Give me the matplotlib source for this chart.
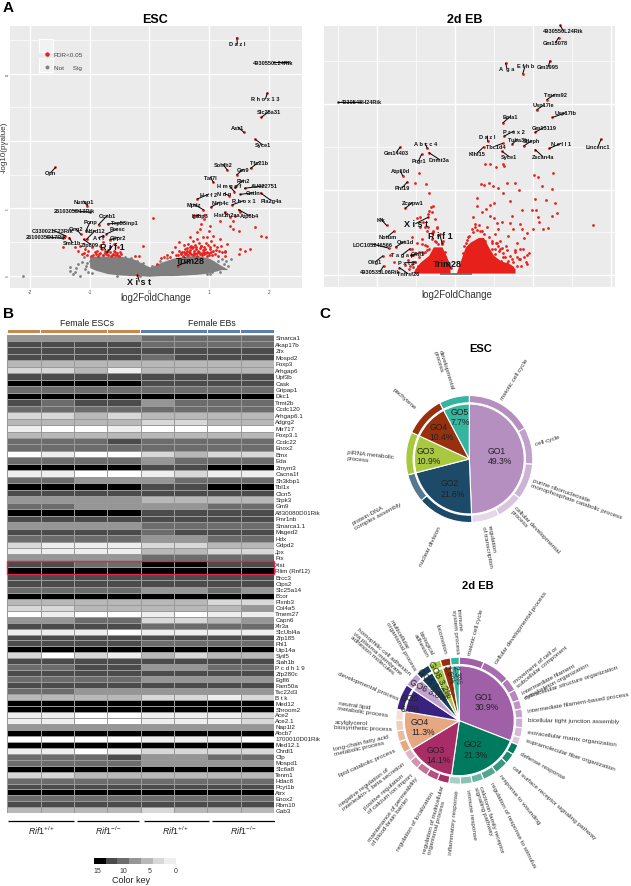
import numpy as np
import matplotlib
matplotlib.use("Agg")
import matplotlib.pyplot as plt
from matplotlib.colors import ListedColormap, BoundaryNorm, to_rgba
from matplotlib.lines import Line2D
from matplotlib.patches import Rectangle

plt.rcParams['font.family'] = ['Liberation Sans', 'DejaVu Sans']
plt.rcParams['mathtext.fontset'] = 'custom'
plt.rcParams['mathtext.rm'] = 'Liberation Sans'
plt.rcParams['mathtext.it'] = 'Liberation Sans:italic'

W, H = 631, 887
RED = '#e8201c'
GREY = '#7f7f7f'

# ---- panel A, ESC volcano ----
esc_names = ["D a z l", "4930550L24Rik", "R h o x 1 3", "Slc25a31", "Asz1", "Syce1", "Tfc21b", "Gm9", "Sohlh2",
             "Taf7l", "H m g p f", "Fbn2", "AU022751", "Cntln", "Pla2g4a", "N d n", "H x f 2", "Mpdz", "Nlrp4c",
             "R h o x 1", "Igfbp3", "Hist1h2aa", "Atp8b4", "Opn", "Nusap1", "2610305D13Rik", "Ccnb1", "Trp53inp1",
             "Pcnp", "Ndrd12", "Prosc", "Gng2", "C330021F23Rik", "2610035D17Rik", "Smc1b", "Zfp809", "A t f",
             "Gjipr2"]
esc_px = [1.46, 2.32, 1.97, 1.87, 1.58, 1.77, 1.69, 1.46, 1.30, 1.07, 1.42, 1.43, 1.59, 1.52, 1.86, 1.33, 0.80, 0.90,
          1.03, 1.38, 0.79, 1.26, 1.49, -1.57, -1.04, -0.99, -0.85, -0.70, -1.06, -1.05, -0.72, -1.15, -1.41, -1.44,
          -1.34, -1.10, -0.77, -0.66]
esc_py = [17.67, 15.84, 13.56, 11.76, 10.64, 10.12, 7.97, 7.50, 7.85, 6.93, 6.24, 6.56, 6.49, 6.04, 6.14, 5.94, 5.69,
          4.90, 5.10, 5.25, 4.46, 4.70, 4.90, 8.04, 5.20, 4.70, 3.79, 3.84, 3.34, 2.70, 3.09, 3.09, 2.97, 2.77, 2.82,
          2.70, 2.97, 2.67]
esc_tx = [1.47, 2.06, 1.94, 2.00, 1.48, 1.89, 1.83, 1.57, 1.23, 1.02, 1.34, 1.57, 1.92, 1.74, 2.03, 1.25, 0.99, 0.74,
          1.18, 1.57, 0.85, 1.29, 1.67, -1.65, -1.10, -1.26, -0.70, -0.42, -0.99, -0.91, -0.54, -1.23, -1.62, -1.72,
          -1.29, -0.99, -0.85, -0.52]
esc_ty = [17.23, 15.84, 13.14, 12.20, 11.04, 9.73, 8.44, 7.90, 8.27, 7.30, 6.66, 7.10, 6.68, 6.16, 5.59, 6.11, 6.06,
          5.32, 5.47, 5.57, 4.50, 4.53, 4.46, 7.65, 5.54, 4.83, 4.48, 3.94, 4.00, 3.34, 3.47, 3.49, 3.39, 2.87, 2.45,
          2.33, 2.80, 2.85]
esc_big = ["R i f 1", "Trim28", "X i s t"]
esc_big_px = [-0.71, 0.47, -0.20]
esc_big_py = [1.73, 0.74, 0.05]
esc_big_tx = [-0.62, 0.68, -0.17]
esc_big_ty = [2.20, 1.11, -0.42]

esc_red_x = [.44, .48, .52, .56, .60, .64, .68, .72, .76, .80, .84, .88, .92, .96, 1.0, 1.05, 1.10, 1.15,
             .50, .55, .59, .63, .67, .71, .74, .78, .81, .85, .89, .93, .97, 1.01, 1.06, 1.11, 1.16, 1.21, 1.26,
             .42, .50, .58, .65, .69, .73, .76, .79, .83, .87, .90, .94, .98, 1.03, 1.08, 1.13, 1.19,
             .87, .91, .85, .79, .68, 1.01, 1.18, 1.35, 1.40, 1.49, 1.77, 1.87, 1.95, 1.52, 1.68, 1.60, 1.49,
             1.29, 1.26, 1.26, 1.18, .96, 1.06, .99, .74, .91, 1.35, 1.40, 1.52, 1.43,
             .06, -.10, -.24, -.18, .20, .25, .30, .35, .38, .12,
             -1.44, -1.24, -1.16, -1.19, -1.13, -1.07, -1.02, -.96, -.91, -.82, -.77, -.66, -.60, -.52,
             -.95, -.90, -.86, -.82, -.78, -.75, -.72, -.69, -.66, -.63, -.60, -.57, -.54, -.51, -.48,
             -.88, -.84, -.80, -.74, -.70, -.64, -.61, -.58, -.55, -.50, -1.05, -1.10, -.98,
             .53, .57, .61, .66, .70, .75, .79, .83, .88, .91, .95, .99, 1.03, .62, .68, .73, .78, .86, .92, 1.02]
esc_red_y = [1.50, 1.55, 1.62, 1.48, 1.60, 1.52, 1.66, 1.50, 1.58, 1.46, 1.60, 1.52, 1.64, 1.48, 1.56, 1.50, 1.62, 1.45,
             1.85, 1.78, 1.95, 1.82, 1.90, 2.02, 1.80, 1.96, 1.84, 2.05, 1.88, 1.98, 1.78, 2.00, 1.86, 1.92, 1.80, 1.75, 1.72,
             2.15, 2.50, 2.25, 2.35, 2.20, 2.60, 2.30, 2.75, 2.40, 2.20, 2.90, 2.45, 2.25, 2.55, 2.30, 2.10, 2.20,
             3.84, 4.20, 3.47, 3.22, 2.85, 3.71, 4.08, 3.71, 3.47, 3.34, 3.59, 2.97, 2.85, 1.98, 1.98, 1.86, 1.61,
             2.35, 1.86, 1.49, 2.72, 2.85, 2.97, 3.34, 4.50, 4.53, 4.33, 4.08, 4.70, 4.46,
             4.28, 2.23, 1.44, 1.44, 1.30, 1.42, 1.55, 1.35, 1.75, 0.90,
             2.10, 2.10, 2.23, 1.80, 1.60, 1.98, 1.86, 2.10, 1.73, 2.23, 2.48, 2.10, 2.35, 2.10,
             1.50, 1.62, 1.48, 1.70, 1.52, 1.80, 1.58, 1.50, 1.72, 1.55, 1.85, 1.50, 1.65, 1.48, 1.60,
             1.85, 1.58, 1.95, 1.65, 1.90, 1.45, 1.62, 1.78, 1.52, 1.75, 1.55, 1.70, 1.48,
             1.68, 1.72, 1.65, 1.74, 1.62, 1.70, 1.66, 1.74, 1.70, 1.76, 1.70, 1.66, 1.72, 2.05, 2.10, 2.12, 2.14, 2.18, 2.10, 2.15]
esc_grey_x = [-2.12, -1.33, -1.33, -1.19, -1.27, -1.13, -1.08, -1.10, -1.16, -1.04, -1.22, -1.25, -1.02, -1.0,
              -.96, -1.06, 1.07, 1.15, 1.24, 1.32, 1.12, .96, 1.18, 1.05, 1.02, 1.20, 1.10, 1.37, 1.28, 1.22, .62, .18,
              -.78, -.40, -.30, -.20, -.10, -.15, .05, .30, -.55]
esc_grey_y = [0.0, 0.62, 0.37, 0.87, 0.12, 1.00, 0.50, 1.36, 0.00, 0.95, 0.55, 0.30, 0.25, 1.10,
              0.20, 0.72, 1.00, 1.11, 0.87, 0.74, 0.50, 0.12, 0.25, 0.30, 0.15, 0.60, 0.85, 1.25, 1.05, 1.20, 1.50, 1.05,
              1.50, 1.38, 1.30, 1.08, 0.92, -0.05, 0.72, 1.28, -0.02]
# outline of the solid grey mass
esc_env_x = [-1.0, -0.9, -0.7, -0.5, -0.3, -0.2, -0.1, 0.0, 0.1, 0.2, 0.4, 0.6, 0.8, 1.0, 1.2, 1.3]
esc_env_top = [1.40, 1.45, 1.45, 1.45, 1.30, 1.10, 0.87, 0.65, 0.80, 1.00, 1.30, 1.45, 1.50, 1.30, 0.75, 0.50]
esc_env_bot = [0.60, 0.40, 0.15, 0.05, 0.00, 0.00, -0.02, -0.05, -0.02, 0.00, 0.00, 0.05, 0.10, 0.20, 0.45, 0.45]

# ---- panel A, 2d EB volcano ----
eb_names = ["4930550L24Rik", "Gm13078", "Gm1995", "E f h b", "A  g a", "Tmem92", "Usp17le", "Usp17lb", "4930548H24Rik",
            "Bola1", "Gm13119", "P r e x 2", "D a z l", "Tuba3b", "Stleph", "N e l l 1", "Lincenc1", "Tbc1d4", "Klhl15",
            "Syce1", "Zscan4a", "A b c c 4", "Gm14403", "Ptgr1", "Dnmt3a", "Atp10d", "Phf19", "Zcwpw1", "Klk", "Notum",
            "Oas1d", "LOC105246566", "T a g a p", "Cfhl1", "Olig1", "P x t 1", "4930535L06Rik", "Tnfrsf26"]
eb_px = [2.70, 2.66, 2.44, 1.74, 1.30, 2.36, 2.10, 2.50, -3.02, 1.23, 2.06, 1.26, 0.84, 1.47, 1.76, 2.42, 3.75, 1.22,
         0.73, 1.21, 2.06, -0.72, -1.41, -0.86, -0.67, -1.35, -1.23, -1.28, -1.76, -1.58, -1.53, -1.71, -1.16, -1.14,
         -1.86, -1.03, -1.84, -1.43]
eb_py = [29.22, 27.78, 25.06, 23.58, 24.79, 20.54, 19.34, 18.44, 20.31, 17.82, 16.73, 16.26, 15.64, 15.33, 15.10, 14.82,
         15.88, 15.41, 14.98, 14.47, 14.67, 14.86, 14.98, 14.12, 14.32, 11.63, 10.89, 7.82, 5.80, 5.10, 3.27, 3.15, 3.07,
         2.30, 2.22, 1.52, 1.05, 0.86]
eb_tx = [2.78, 2.58, 2.39, 1.80, 1.33, 2.57, 2.28, 2.84, -2.42, 1.41, 2.30, 1.51, 0.83, 1.60, 1.97, 2.72, 3.68, 1.04,
         0.57, 1.39, 2.25, -0.77, -1.51, -0.94, -0.41, -1.41, -1.35, -1.10, -1.90, -1.74, -1.29, -2.12, -1.35, -0.97,
         -2.05, -1.26, -1.93, -1.22]
eb_ty = [28.60, 27.20, 24.36, 24.47, 24.20, 21.17, 19.92, 18.99, 20.31, 18.52, 17.32, 16.85, 16.26, 15.91, 15.72, 15.41,
         15.10, 15.10, 14.28, 13.85, 13.89, 15.41, 14.36, 13.39, 13.54, 12.22, 10.27, 8.48, 6.50, 4.47, 3.97, 3.62, 2.41,
         2.49, 1.56, 1.44, 0.39, 0.19]
eb_big = ["X i s t", "R i f 1", "Trim28"]
eb_big_px = [-0.69, -0.33, -0.11]
eb_big_py = [6.77, 3.66, 0.82]
eb_big_tx = [-1.01, -0.39, -0.20]
eb_big_ty = [6.03, 4.67, 1.36]

eb_red_x = [.77, .90, 1.04, 1.24, 1.26, 2.03, 2.14, 2.51, .66, .73, .86, 0.98, 1.11, 1.34, 1.54, 1.64, 1.22, 1.41, .57,
            2.05, 2.33, 2.58, 2.24, 2.49, 2.62, 2.48, 2.14, 2.15, 1.98, 2.09, 1.73, 1.46, 1.00, .90, .80, .56, .68, .47,
            .90, .99, 1.07, 1.20, 1.42, 1.49, 1.72, 1.67, 2.01, 2.25, 2.40, 3.55, 1.85, 1.78, 1.60, 1.35, 1.10, 1.30,
            1.75, 1.90, 1.55, 1.20, 1.05, 1.42, 1.65, 1.82, 1.12, 1.28, 1.50, 1.70, 1.38, 1.02, 1.18,
            .51, .57, .45, .34, .43, .64, .73, .81, .68, .94, 1.03, .94, 1.07, 1.16, 1.33, 1.24, 1.46, 1.59, 1.54, 1.67,
            1.84, 1.76, 1.84, 1.16, .77, .94, 1.03, 1.67, 1.41, 1.59, 1.16, .30, .36, .28, .52, .62, .88, 1.10, 1.22,
            1.36, 1.47, 1.33, .24, .20,
            -.94, -1.02, -.76, -.67, -.56, -.61, -.66, -.69, -.60, -.51, -.90, -.97, -.82, -.90, -.77, -.47, -.56, -.43,
            -1.11, -.86, -1.67, -1.58, -.73, -.77, -.94, -1.07, -.98, -1.10, -.85, -.60, -.72, -.50, -1.28, -1.20, -.95,
            -.60, -.51, -.38, -.56, -.69, -.47, -.30, -.43, -.77, -.86, -.94, -1.03, -1.07, -1.11, -.68, -.34, -.72,
            -.82, -.25, -.20, -1.15, -1.18]
eb_red_y = [13.00, 12.96, 12.60, 13.00, 12.80, 11.74, 11.50, 12.00, 10.62, 10.54, 10.82, 10.39, 10.19, 10.74, 10.78, 10.00,
            9.63, 8.72, 9.05, 8.95, 8.79, 8.48, 10.42, 10.05, 7.28, 6.89, 6.77, 6.26, 7.63, 7.66, 7.66, 6.96, 8.40, 8.16,
            7.70, 8.05, 7.35, 6.81, 6.91, 6.72, 6.05, 6.21, 6.05, 5.35, 5.35, 6.00, 5.43, 5.40, 5.50, 5.90, 4.90, 4.30,
            3.70, 4.60, 5.40, 3.40, 3.10, 2.60, 2.90, 3.20, 3.70, 2.20, 1.90, 1.50, 2.80, 2.10, 1.50, 1.10, 1.00, 3.00, 1.60,
            5.60, 5.30, 5.00, 4.40, 5.40, 5.10, 4.80, 5.60, 5.20, 4.00, 4.80, 3.10, 3.70, 3.10, 2.90, 2.10, 1.90, 2.10, 2.70,
            3.10, 2.30, 2.10, 1.30, 4.00, 4.00, 3.80, 2.50, 1.90, 1.10, 1.10, 0.85, 4.10, 4.60, 3.70, 6.00, 5.90, 4.50, 3.40,
            2.60, 1.70, 0.95, 1.40, 3.40, 2.60,
            11.98, 10.74, 10.66, 9.60, 8.12, 7.93, 7.55, 7.16, 7.35, 6.58, 6.77, 6.70, 6.19, 5.65, 5.58, 5.54, 5.00, 4.67,
            4.40, 3.66, 2.30, 1.58, 3.45, 2.68, 2.68, 2.30, 3.80, 3.00, 4.20, 4.90, 5.10, 3.90, 1.20, 1.80, 1.00,
            4.20, 4.00, 4.80, 5.20, 5.60, 5.60, 4.00, 3.60, 3.50, 2.70, 2.10, 1.50, 0.90, 1.30, 3.10, 3.70, 2.90,
            2.60, 2.70, 1.70, 1.10, 0.70]
# outlines of the solid red wings and the grey band at the centre
eb_right_x = [0.04, 0.17, 0.26, 0.385, 0.60, 0.73, 0.86, 0.99, 1.16, 1.41, 1.54]
eb_right_top = [0.35, 2.10, 3.27, 3.85, 4.40, 4.40, 3.27, 2.30, 1.70, 1.30, 0.75]
eb_left_x = [-1.07, -1.03, -0.90, -0.68, -0.56, -0.34, -0.21, -0.13]
eb_left_top = [0.35, 0.73, 1.50, 2.30, 3.30, 3.30, 2.10, 0.74]
eb_band_x = [-0.39, 0.43]
eb_band_top = [0.23, 0.23]

# ---- panel B ----
heat_genes = ["Smarca1", "Akap17b", "Zfx", "Mospd2", "Foxp3", "Arhgap6", "Upf3b", "Cask", "Gripap1", "Dkc1", "Trmt2b",
              "Ccdc120", "Arhgap6.1", "Adgrg2", "Mir717", "Foxp3.1", "Ccdc22", "Enox2", "Bmx", "Eda", "Zmym3", "Cacna1f",
              "Sh3kbp1", "Tbl1x", "Clcn5", "Srpk3", "Gm9", "A830080D01Rik", "Fmr1nb", "Smarca1.1", "Maged2", "Hdx", "Gdpd2",
              "Jpx", "Ftx", "Xist", "Rlim (Rnf12)", "Brcc3", "Ctps2", "Slc25a14", "Bcor", "Plxnb3", "Col4a5", "Tmem27",
              "Capn6", "Xlr3a", "SlcUbl4a", "Zfp185", "Fhl1", "Utp14a", "Sytl5", "Siah1b", "P c d h 1 9", "Zfp280c", "Egfl6",
              "Fam50a", "Tsc22d3", "B t k", "Med12", "Shroom2", "Ace2", "Ace2.1", "Nap1l2", "Abcb7", "1700010D01Rik",
              "Med12.1", "Chrdl1", "Cfp", "Mospd1", "Slc6a8", "Tenm1", "Hdac8", "Pcyt1b", "Atrx", "Enox2", "Rbm10", "Gab3"]
# grey level of each cell, 0 = black ... 7 = white
heat_levels = [
    [3, 3, 3, 3, 2, 2, 2, 2], [1, 1, 1, 1, 2, 2, 2, 2], [1, 1, 1, 1, 1, 1, 1, 1], [1, 1, 1, 1, 2, 1, 1, 1],
    [4, 4, 4, 4, 4, 4, 4, 4], [5, 5, 4, 6, 4, 4, 4, 4], [1, 1, 1, 1, 1, 1, 1, 1], [0, 0, 0, 0, 1, 1, 1, 1],
    [2, 2, 2, 2, 2, 2, 2, 2], [0, 0, 0, 0, 0, 0, 0, 0], [1, 2, 1, 1, 3, 2, 2, 2], [2, 2, 2, 2, 2, 2, 2, 2],
    [5, 5, 4, 5, 4, 4, 4, 4], [4, 4, 4, 4, 5, 5, 4, 4], [6, 7, 7, 6, 7, 7, 7, 7], [4, 4, 4, 4, 4, 4, 4, 4],
    [2, 2, 2, 1, 2, 2, 2, 2], [2, 2, 2, 2, 2, 2, 2, 2], [7, 6, 7, 7, 5, 4, 5, 5], [2, 2, 2, 2, 3, 2, 2, 2],
    [0, 0, 0, 0, 1, 1, 0, 0], [6, 6, 7, 7, 6, 5, 6, 6], [2, 2, 3, 3, 3, 2, 2, 2], [0, 0, 0, 0, 1, 1, 0, 0],
    [1, 1, 1, 1, 1, 1, 1, 1], [3, 3, 3, 3, 4, 4, 4, 4], [2, 2, 3, 3, 3, 3, 2, 2], [0, 0, 0, 0, 1, 1, 1, 1],
    [1, 1, 1, 1, 1, 1, 1, 1], [3, 3, 3, 3, 2, 2, 2, 2], [1, 1, 1, 1, 2, 1, 1, 1], [2, 2, 2, 2, 3, 3, 2, 2],
    [5, 6, 6, 6, 5, 5, 4, 4], [6, 6, 6, 6, 4, 4, 5, 5], [3, 3, 3, 3, 2, 2, 2, 2], [1, 1, 2, 2, 0, 0, 1, 1],
    [0, 0, 0, 0, 0, 0, 0, 0], [1, 1, 1, 1, 1, 1, 1, 1], [1, 1, 1, 1, 1, 1, 1, 1], [2, 2, 2, 2, 3, 3, 2, 3],
    [0, 0, 0, 0, 0, 0, 0, 0], [4, 4, 4, 4, 4, 4, 5, 5], [5, 5, 4, 4, 4, 4, 4, 3], [7, 6, 7, 7, 6, 7, 6, 6],
    [3, 3, 2, 2, 5, 5, 4, 3], [1, 1, 1, 1, 2, 2, 2, 2], [6, 6, 6, 7, 6, 6, 6, 6], [1, 1, 1, 1, 1, 1, 1, 1],
    [1, 1, 1, 1, 2, 2, 2, 2], [0, 0, 0, 0, 0, 0, 0, 0], [5, 7, 5, 6, 4, 5, 4, 4], [1, 1, 1, 1, 1, 1, 1, 1],
    [2, 2, 1, 1, 3, 3, 2, 2], [1, 1, 1, 1, 1, 1, 1, 1], [2, 2, 2, 2, 3, 3, 3, 3], [1, 1, 1, 1, 1, 1, 1, 1],
    [2, 2, 3, 3, 3, 3, 3, 3], [4, 4, 4, 4, 5, 5, 6, 5], [0, 0, 0, 0, 0, 0, 0, 0], [0, 0, 0, 0, 0, 0, 0, 0],
    [6, 6, 7, 7, 6, 6, 6, 5], [6, 6, 7, 7, 6, 6, 6, 5], [3, 3, 3, 3, 3, 3, 3, 3], [0, 0, 0, 0, 0, 0, 0, 0],
    [7, 7, 7, 7, 6, 6, 6, 7], [0, 0, 0, 0, 0, 0, 0, 0], [6, 6, 7, 6, 5, 5, 5, 5], [2, 2, 2, 1, 3, 3, 2, 2],
    [2, 2, 2, 2, 3, 3, 3, 3], [0, 0, 0, 0, 0, 0, 0, 0], [5, 5, 4, 4, 4, 4, 4, 4], [2, 2, 2, 2, 2, 2, 2, 2],
    [1, 1, 1, 1, 1, 1, 1, 1], [0, 0, 0, 0, 0, 0, 0, 0], [2, 2, 2, 2, 2, 2, 2, 2], [1, 1, 1, 1, 1, 1, 1, 1],
    [4, 4, 4, 4, 5, 4, 4, 4]]
heat_greys = ['#000000', '#4b4b4b', '#6c6c6c', '#969696', '#b8b8b8', '#d8d8d8', '#eeeeee', '#ffffff']
key_values = [15, 12.5, 10, 7.5, 5, 2.5, 0]
key_ticks = [15, 10, 5, 0]

# ---- panel C ----
esc_go = ["GO1\n49.3%", "GO2\n21.6%", "GO3\n10.9%", "GO4\n10.4%", "GO5\n7.7%"]
esc_go_sizes = [49.3, 21.6, 10.9, 10.4, 7.7]
esc_go_colors = ['#b48fc0', '#1d4a69', '#a8c93f', '#98300e', '#35b5a0']
esc_ring_sizes = [[16.9, 9.4, 9.2, 6.7, 7.1], [14.3, 7.3], [10.9], [10.4], [7.7]]

eb_go = ["GO1\n30.9%", "GO2\n21.3%", "GO3\n14.1%", "GO4\n11.3%", "GO5\n6.7%", "GO6 3.8%", "GO6 3.7%", "GO8 3.2%",
         "2.6%", "2.3%"]
eb_go_sizes = [30.9, 21.3, 14.1, 11.3, 6.7, 3.8, 3.7, 3.2, 2.6, 2.3]
eb_go_colors = ['#a060a8', '#007a5e', '#a82d66', '#e5a882', '#3a2380', '#c2a0d0', '#153d5c', '#a8c93f', '#98300e',
                '#35b5a0']
eb_ring_sizes = [[6.4, 7.3, 3.4, 2.8, 2.3, 2.3, 2.5, 2.5, 2.0], [2.7, 2.7, 3.6, 3.6, 3.0, 3.0, 3.0],
                 [3.0, 3.0, 3.0, 2.5, 2.6], [3.0, 2.8, 2.7, 2.8], [6.7], [3.8], [3.7], [3.2], [2.6], [2.3]]

fig = plt.figure(figsize=(W / 100, H / 100), dpi=100)


def px_axes(x0, y0, x1, y1):
    return fig.add_axes([x0 / W, 1 - y1 / H, (x1 - x0) / W, (y1 - y0) / H])


def ptext(x, y, s, **kw):
    kw.setdefault('ha', 'center')
    kw.setdefault('va', 'center')
    fig.text(x / W, 1 - y / H, s, **kw)


def labels(ax, names, px, py, tx, ty, size):
    for n, a, b, c, d in zip(names, px, py, tx, ty):
        ax.plot([a, c], [b, d], color='k', lw=0.7, zorder=4, clip_on=False)
        ax.text(c, d, n, fontsize=size, fontweight='bold', ha='center', va='center', color='#111111', zorder=5)
    ax.scatter(px, py, s=4, color=RED, linewidths=0, zorder=3, clip_on=False)


def gg_panel(ax, xlim, ylim, xmajor, xminor, ymajor, yminor):
    ax.set_facecolor('#ebebeb')
    ax.set_xlim(*xlim)
    ax.set_ylim(*ylim)
    ax.set_xticks(xmajor)
    ax.set_xticks(xminor, minor=True)
    ax.set_yticks(ymajor)
    ax.set_yticks(yminor, minor=True)
    ax.grid(True, which='major', color='white', lw=1.0)
    ax.grid(True, which='minor', color='white', lw=0.5)
    ax.set_axisbelow(True)
    ax.tick_params(which='both', length=0)
    for s in ax.spines.values():
        s.set_visible(False)


# volcano ESC
ax = px_axes(10, 27, 302, 289)
gg_panel(ax, (-2.33, 2.55), (-0.92, 18.55), [-2, -1, 0, 1, 2], [], [0, 5, 10, 15], [2.5, 7.5, 12.5, 17.5])
ax.fill_between(esc_env_x, esc_env_bot, esc_env_top, color=GREY, lw=0, zorder=1)
ax.scatter(esc_grey_x, esc_grey_y, s=4, color=GREY, linewidths=0, zorder=1)
ax.scatter(esc_red_x, esc_red_y, s=4, color=RED, linewidths=0, zorder=2)
labels(ax, esc_names, esc_px, esc_py, esc_tx, esc_ty, 4.1)
labels(ax, esc_big, esc_big_px, esc_big_py, esc_big_tx, esc_big_ty, 6.5)
ax.set_xticklabels(['-2', '-1', '0', '1', '2'], fontsize=3.5, color='#555555')
ax.set_yticklabels(['0', '5', '10', '15'], fontsize=2, color='#333333', rotation=90, va='center')
ax.tick_params(axis='x', pad=1)
ax.tick_params(axis='y', pad=0)
for y0 in (0.83, 0.905):
    ax.add_patch(Rectangle((0.1, y0 - 0.005), 0.047, 0.052, transform=ax.transAxes, fc='#f2f2f2', ec='white', lw=0.8,
                           zorder=2))
h1 = Line2D([], [], ls='', marker='o', ms=3.2, mfc=RED, mec='none')
h2 = Line2D([], [], ls='', marker='o', ms=2.8, mfc=GREY, mec='none')
ax.legend([h1, h2], ['FDR<0.05', 'Not     Sig'], loc='upper left', bbox_to_anchor=(0.085, 0.925), frameon=False,
          fontsize=4.6, labelspacing=1.25, handletextpad=0.1, labelcolor='#444444')
ptext(155, 20, 'ESC', fontsize=9, fontweight='bold')
ptext(156, 298, 'log2FoldChange', fontsize=7, color='#333333')
ptext(4, 147, '-log10(pvalue)', fontsize=5.8, rotation=90, color='#333333')

# volcano 2d EB
ax = px_axes(324, 27, 615, 288)
gg_panel(ax, (-3.37, 4.11), (-1.4, 29.15), [-2, 0, 2, 4], [-3, -1, 1, 3], [0, 10, 20], [5, 15, 25])
ax.set_xticklabels([])
ax.set_yticklabels([])
ax.fill_between(eb_right_x, 0.23, eb_right_top, color=RED, lw=0, zorder=2)
ax.fill_between(eb_left_x, 0.23, eb_left_top, color=RED, lw=0, zorder=2)
ax.fill_between(eb_band_x, 0, eb_band_top, color=GREY, lw=0, zorder=1)
ax.scatter(eb_red_x, eb_red_y, s=4, color=RED, linewidths=0, zorder=2)
labels(ax, eb_names, eb_px, eb_py, eb_tx, eb_ty, 4.1)
labels(ax, eb_big, eb_big_px, eb_big_py, eb_big_tx, eb_big_ty, 6.5)
ptext(465, 20, '2d EB', fontsize=9, fontweight='bold')
ptext(457, 295, 'log2FoldChange', fontsize=7, color='#333333')

# heatmap, the rows of the lower part are a little narrower
row_h = np.r_[np.full(39, 6.47), np.full(38, 5.96)]
row_edges = np.r_[0, np.cumsum(row_h)]
ax = px_axes(7.3, 335.5, 274, 335.5 + row_edges[-1])
cmap = ListedColormap(heat_greys)
ax.pcolormesh(np.arange(9), row_edges, np.array(heat_levels), cmap=cmap,
              norm=BoundaryNorm(np.arange(-0.5, 8.5), 8), edgecolors='#9a9a9a', linewidth=0.6)
ax.set_ylim(row_edges[-1], 0)
ax.set_xlim(0, 8)
ax.axis('off')
for g, y in zip(heat_genes, (row_edges[:-1] + row_edges[1:]) / 2):
    ax.text(8.04, y, g, fontsize=4.5, va='center', ha='left', color='#222222')
ax.add_patch(Rectangle((0, row_edges[35]), 8, row_edges[37] - row_edges[35], fc='none', ec='#e0264a', lw=1.0,
                       clip_on=False, zorder=5))

ax = px_axes(7.3, 331, 274, 334)
ax.bar(np.arange(8) + 0.5, 1, width=0.985, color=['#c8894e'] * 4 + ['#5d80b2'] * 4)
ax.set_xlim(0, 8)
ax.set_ylim(0, 1)
ax.axis('off')
ptext(87, 323, 'Female ESCs', fontsize=6.3, color='#222222')
ptext(212, 323, 'Female EBs', fontsize=6.3, color='#222222')

ax = px_axes(8.3, 818, 275, 826)
ax.hlines([0.5] * 4, [0, 68.4, 135.4, 203.7], [65.7, 131, 201, 266.7], color='k', lw=0.9)
ax.set_xlim(0, 266.7)
ax.set_ylim(0, 1)
ax.axis('off')
for x, s in zip([42, 109, 176, 244], [r'$\mathit{Rif1}^{+/+}$', r'$\mathit{Rif1}^{-/-}$'] * 2):
    ptext(x, 831, s, fontsize=6.3, color='#222222')

ax = px_axes(94, 859, 176, 865)
ax.pcolormesh(np.linspace(15.57, 0, 8), [0, 1], [key_values], cmap=ListedColormap(heat_greys[:7][::-1]), shading='flat')
ax.set_xlim(15.57, 0)
ax.set_yticks([])
ax.set_xticks(key_ticks)
ax.set_xticklabels([str(k) for k in key_ticks], fontsize=5, color='#333333')
ax.tick_params(length=0, pad=2)
for s in ax.spines.values():
    s.set_visible(False)
ptext(131, 881, 'Color key', fontsize=6.5, color='#222222')


# pies
def pie(cx, cy, go_sizes, colors, ring_sizes):
    r = 63.5
    ax = px_axes(cx - r, cy - r, cx + r, cy + r)
    ring_cols = []
    ring_vals = []
    for c, sizes in zip(colors, ring_sizes):
        n = len(sizes)
        step = min(0.25, 0.65 / max(n - 1, 1))
        for i, v in enumerate(sizes):
            ring_vals.append(v)
            ring_cols.append(to_rgba(c, 1 - i * step))
    ax.pie(ring_vals, colors=ring_cols, radius=1, startangle=90, counterclock=False,
           wedgeprops=dict(width=0.115, edgecolor='white', linewidth=0.8))
    ax.pie(go_sizes, colors=colors, radius=0.865, startangle=90, counterclock=False,
           wedgeprops=dict(edgecolor='white', linewidth=0.8))
    ax.set_xlim(-1, 1)
    ax.set_ylim(-1, 1)


pie(469.3, 460, esc_go_sizes, esc_go_colors, esc_ring_sizes)
pie(459.3, 721.7, eb_go_sizes, eb_go_colors, eb_ring_sizes)
ptext(480.7, 349, 'ESC', fontsize=8, fontweight='bold')
ptext(478, 586, '2d EB', fontsize=8, fontweight='bold')

for s, x, y in zip(esc_go, [500, 452.7, 428.3, 441.7, 460.7], [456.7, 489, 456.7, 432.3, 417.7]):
    ptext(x, y, s, fontsize=6.2, color='#222222', linespacing=1.15, ma='left')
for s, x, y, rot in zip(eb_go, [486.7, 476, 438.3, 422.7, 410.7, 428.3, 433, 439.2, 449.3, 456.7],
                        [702.3, 750, 755.7, 727.3, 704, 690.7, 684, 679, 675, 675],
                        [0, 0, 0, 0, 0, -27, -45, -62, -72, -80]):
    ptext(x, y, s, fontsize=6.2, color='#222222', linespacing=1.15, ma='left', rotation=rot, rotation_mode='anchor')

esc_terms = ["developmental\nprocess", "meiotic cell cycle", "pachytene", "cell cycle", "piRNA metabolic\nprocess",
             "purine ribonucleoside\nmonophosphate catabolic process", "protein-DNA\ncomplex assembly",
             "nuclear division", "regulation\nof transcription", "cellular developmental\nprocess"]
esc_term_x = [443.3, 514, 404.3, 547.3, 370, 577.3, 376.7, 430, 490, 535]
esc_term_y = [370.7, 380, 399, 441.3, 458, 499, 514, 546.7, 546.7, 531.7]
esc_term_rot = [-73, 58, -42, 17, -6, -19.5, 28, 64, -80, -46]
eb_terms = ["meiotic cell cycle", "immune\nsystem process", "locomotion", "biological\nadhesion",
            "multicellular\norganismal process", "homophilic cell adhesion\nvia plasma membrane\nadhesion molecules",
            "developmental process", "neutral lipid\nmetabolic process", "acylglycerol\nbiosynthetic process",
            "long-chain fatty acid\nmetabolic process", "lipid catabolic process",
            "negative regulation of\ninterleukin-1 beta secretion", "positive regulation\nof calcium ion import",
            "maintenance of permeability\nof blood-brain barrier", "regulation of localization",
            "regulation of multicellular\norganismal process", "inflammatory response", "immune response",
            "calcitonin family receptor\nsignaling pathway", "regulation of response to stimulus",
            "response to wounding", "cell surface receptor signaling pathway", "defense response",
            "supramolecular fiber organization", "extracellular matrix organization",
            "bicellular tight junction assembly", "intermediate filament-based process",
            "extracellular structure organization", "intermediate filament\ncytoskeleton organization",
            "movement of cell or\nsubcellular component", "cellular developmental process"]
eb_term_x = [476, 457.7, 440.7, 423.3, 402.7, 380, 368.3, 363.3, 363.3, 361.7, 366.7, 371.7, 388.3, 395, 415, 435.7, 454,
             470.7, 488.3, 512.7, 520, 554.3, 542.3, 570, 571.7, 573.3, 578.3, 571, 555, 540, 521]
eb_term_y = [632.3, 631.7, 639, 645, 645, 655.7, 686, 710, 725.7, 746, 762.7, 785, 791.7, 811.7, 821.7, 820, 822.3, 815,
             820, 825, 800, 802.7, 765.7, 755, 738.3, 721, 702.7, 682.7, 679.3, 665, 628.3]
eb_term_rot = [75, -85, -75, -62, -60, -41, -23, -8, -2, 13, 24, 37, 41, 53, 59, 75, 84, -82, -72, -63, -51, -41, -29,
               -18, -8, -1, 9.5, 18, 28, 39, 55]
for s, x, y, rot in zip(esc_terms + eb_terms, esc_term_x + eb_term_x, esc_term_y + eb_term_y,
                        esc_term_rot + eb_term_rot):
    ptext(x, y, s, fontsize=4.6, color='#333333', rotation=rot, rotation_mode='anchor', ma='left', linespacing=1.05)

ptext(8.5, 8, 'A', fontsize=11, fontweight='bold')
ptext(8, 314, 'B', fontsize=11, fontweight='bold')
ptext(325, 314, 'C', fontsize=11, fontweight='bold')

fig.savefig('out.png', dpi=100)
